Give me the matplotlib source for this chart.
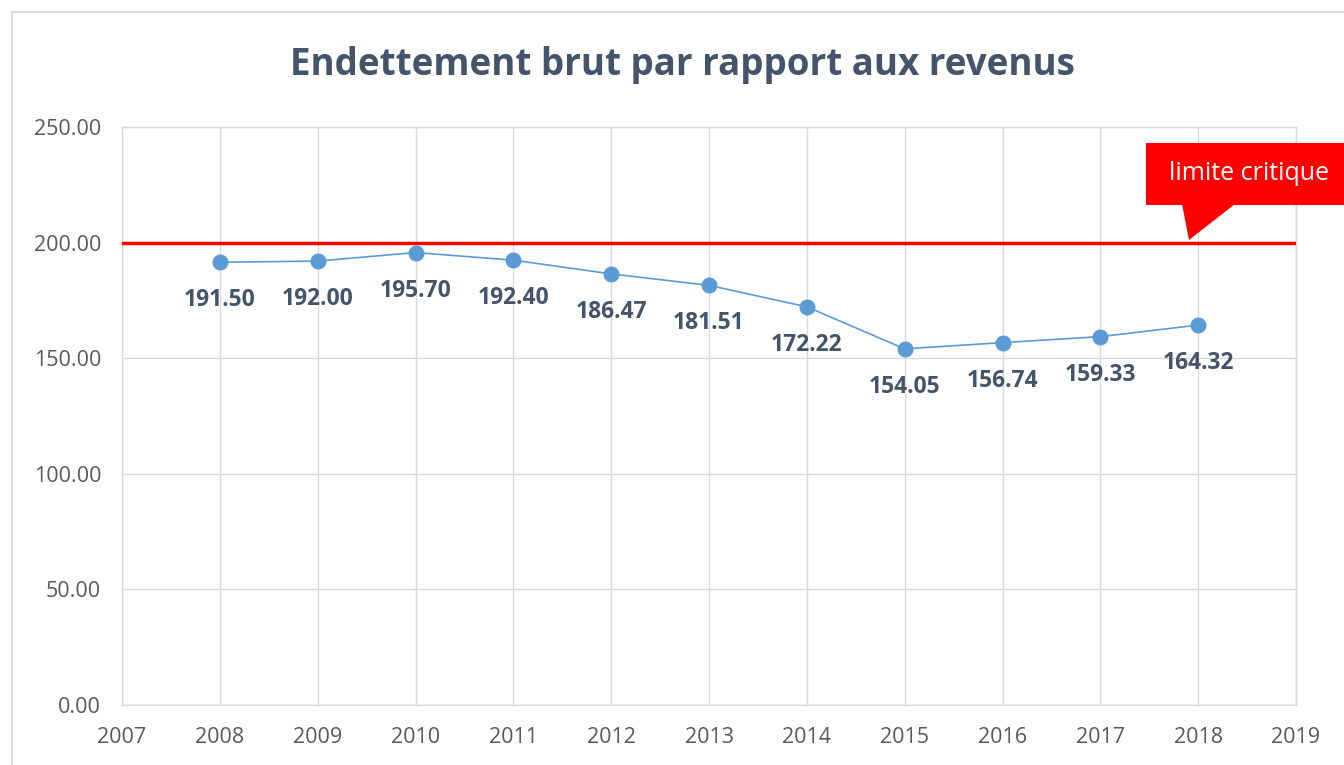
import matplotlib
matplotlib.use("Agg")
import matplotlib.pyplot as plt
from matplotlib.patches import Polygon, Rectangle

years = [2008, 2009, 2010, 2011, 2012, 2013, 2014, 2015, 2016, 2017, 2018]
values = [191.50, 192.00, 195.70, 192.40, 186.47, 181.51, 172.22, 154.05, 156.74, 159.33, 164.32]
x_ticks = list(range(2007, 2020))
y_ticks = [0, 50, 100, 150, 200, 250]
limit_value = 200
title = "Endettement brut par rapport aux revenus"
callout_text = "limite critique"

plt.rcParams['font.family'] = ['Open Sans', 'DejaVu Sans']

W, H = 1344, 765
fig = plt.figure(figsize=(W / 100, H / 100), dpi=100)
ax = fig.add_axes([122 / W, 1 - 705 / H, (1296 - 122) / W, (705 - 127) / H])

grid_c = '#D9D9D9'
ax.set_xlim(2007, 2019)
ax.set_ylim(0, 250)
ax.set_xticks(x_ticks)
ax.set_yticks(y_ticks)
ax.set_yticklabels([f"{v:.2f}" for v in y_ticks])
ax.grid(True, color=grid_c, lw=1)
ax.set_axisbelow(True)
for s in ax.spines.values():
    s.set_color(grid_c)
    s.set_linewidth(1)
ax.tick_params(length=0, colors='#595959', labelsize=15.5)
ax.tick_params(axis='x', pad=16)
ax.tick_params(axis='y', pad=15)

ax.axhline(limit_value, color='#FF0000', lw=2.5, zorder=3)
ax.plot(years, values, color='#5B9BD5', lw=1.2, marker='o', ms=10.5, zorder=4)
for x, v in zip(years, values):
    ax.annotate(f"{v:.2f}", (x, v), xytext=(0, -38 * 72 / 100), textcoords='offset points',
                ha='center', va='center', fontsize=16.5, fontweight='bold',
                color='#44546A', zorder=5)

fig.text(682 / W, 1 - 65 / H, title, ha='center', va='center', fontsize=26.5,
         fontweight='bold', color='#44546A')

# callout (pixel coords in figure)
def fp(px, py):
    return (px / W, 1 - py / H)

box = Rectangle(fp(1146, 205), (1344 - 1146) / W, (205 - 143) / H,
                transform=fig.transFigure, facecolor='#FF0000', edgecolor='none',
                clip_on=False, zorder=10)
fig.patches.append(box)
tri = Polygon([fp(1182, 204), fp(1235, 204), fp(1189, 240)], closed=True,
              transform=fig.transFigure, facecolor='#FF0000', edgecolor='none',
              clip_on=False, zorder=10)
fig.patches.append(tri)
fig.text(1249 / W, 1 - 173 / H, callout_text, ha='center', va='center',
         fontsize=18, color='white', zorder=11)

frame = Rectangle(fp(12, 780), (1400 - 12) / W, (780 - 12) / H,
                  transform=fig.transFigure, facecolor='none', edgecolor='#D9D9D9',
                  lw=1.5, clip_on=False, zorder=0)
fig.patches.append(frame)

fig.savefig('out.png', dpi=100, facecolor='white')
